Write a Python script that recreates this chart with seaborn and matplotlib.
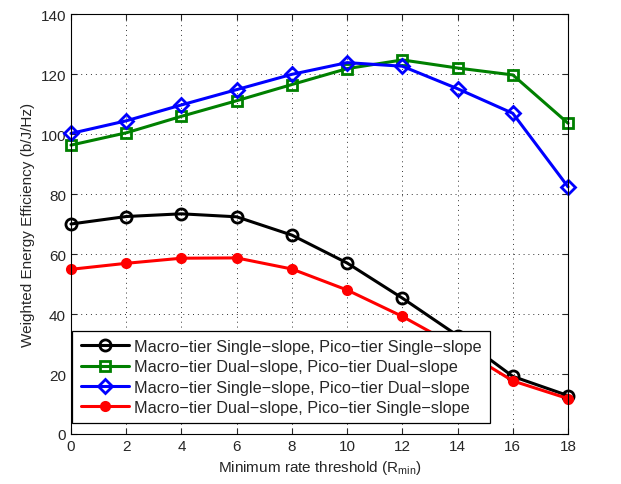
import numpy as np
import pandas as pd
import matplotlib
matplotlib.use('Agg')
import matplotlib.pyplot as plt
import seaborn as sns

# Data
rmin = [0, 2, 4, 6, 8, 10, 12, 14, 16, 18]
ss_ss = [70.0, 72.5, 73.4, 72.4, 66.3, 57.0, 45.3, 32.8, 19.2, 12.8]
ds_ds = [96.3, 100.4, 105.9, 111.1, 116.5, 121.8, 124.7, 122.0, 119.7, 103.6]
ss_ds = [100.2, 104.4, 109.7, 114.8, 119.9, 123.8, 122.6, 115.1, 106.9, 82.4]
ds_ss = [54.9, 56.9, 58.6, 58.7, 55.0, 48.0, 39.2, 29.0, 17.7, 11.8]

labels = [
    'Macro\u2212tier Single\u2212slope, Pico\u2212tier Single\u2212slope',
    'Macro\u2212tier Dual\u2212slope, Pico\u2212tier Dual\u2212slope',
    'Macro\u2212tier Single\u2212slope, Pico\u2212tier Dual\u2212slope',
    'Macro\u2212tier Dual\u2212slope, Pico\u2212tier Single\u2212slope',
]
series = [ss_ss, ds_ds, ss_ds, ds_ss]

df = pd.DataFrame({
    'Rmin': rmin * 4,
    'EE': sum(series, []),
    'scheme': np.repeat(labels, len(rmin)),
})

sns.set_style('ticks')
plt.rcParams['font.family'] = ['Liberation Sans', 'DejaVu Sans']

colors = ['black', 'green', 'blue', 'red']
markers = ['o', 's', 'D', 'o']
msizes = [8, 7, 7, 6]
fills = ['none', 'none', 'none', 'red']

fig = plt.figure(figsize=(6.21, 4.85), dpi=100)
ax = fig.add_axes([0.1143, 0.1031, 0.8004, 0.8659])

for lab, c, m, ms, fc in zip(labels, colors, markers, msizes, fills):
    sns.lineplot(data=df[df['scheme'] == lab], x='Rmin', y='EE', ax=ax,
                 color=c, marker=m, markersize=ms, markerfacecolor=fc,
                 markeredgecolor=c, markeredgewidth=2, linewidth=2.2,
                 label=lab, clip_on=False)

ax.set_xlim(0, 18)
ax.set_ylim(0, 140)
ax.set_xticks(range(0, 19, 2))
ax.set_yticks(range(0, 141, 20))
ax.grid(True, linestyle=(0, (1, 4)), color='black', linewidth=0.7, alpha=0.8)
ax.tick_params(direction='in', top=True, right=True, labelsize=11, length=4)
for s in ax.spines.values():
    s.set_linewidth(0.8)
    s.set_color('black')

ax.set_xlabel('Minimum rate threshold (R$_{\\mathregular{min}}$)', fontsize=11)
ax.set_ylabel('Weighted Energy Efficiency (b/J/Hz)', fontsize=11)

leg = ax.legend(loc='lower left', bbox_to_anchor=(0.003, 0.026),
                borderaxespad=0, fontsize=11.7, frameon=True, fancybox=False,
                edgecolor='black', framealpha=1,
                handlelength=3.0, labelspacing=0.33, borderpad=0.5,
                handletextpad=0.3)
leg.get_frame().set_linewidth(0.9)
leg.set_zorder(10)

fig.savefig('out.png', dpi=100)
